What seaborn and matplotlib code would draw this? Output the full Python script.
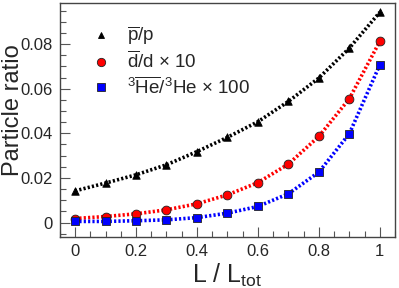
import numpy as np
import pandas as pd
import seaborn as sns
import matplotlib
matplotlib.use("Agg")
import matplotlib.pyplot as plt
from matplotlib.ticker import MultipleLocator
from matplotlib.lines import Line2D

sns.set_style("ticks")
plt.rcParams['font.family'] = ['Liberation Sans', 'DejaVu Sans']
plt.rcParams['mathtext.fontset'] = 'custom'
plt.rcParams['mathtext.rm'] = 'Liberation Sans'
plt.rcParams['mathtext.it'] = 'Liberation Sans'

L = [0.0, 0.1, 0.2, 0.3, 0.4, 0.5, 0.6, 0.7, 0.8, 0.9, 1.0]
pbar_p = [0.0142, 0.0177, 0.0214, 0.0259, 0.0318, 0.0382, 0.0452, 0.0543, 0.0648, 0.0782, 0.0943]
dbar_d = [0.0018, 0.0027, 0.0039, 0.0057, 0.0084, 0.0124, 0.0179, 0.0262, 0.0386, 0.0555, 0.0812]
he_he = [0.0005, 0.0005, 0.0008, 0.0012, 0.0022, 0.0042, 0.0072, 0.0129, 0.0226, 0.0398, 0.0707]

labels = [r"$\overline{\mathrm{p}}$/p",
          r"$\overline{\mathrm{d}}$/d $\times$ 10",
          r"$^{3}\overline{\mathrm{He}}$/$^{3}$He $\times$ 100"]
colors = ["black", "red", "blue"]
markers = ["^", "o", "s"]
msizes = [5, 6, 6]

df = pd.DataFrame({"L": L * 3,
                   "ratio": pbar_p + dbar_d + he_he,
                   "species": [labels[0]] * 11 + [labels[1]] * 11 + [labels[2]] * 11})

fig = plt.figure(figsize=(3.99, 2.88), dpi=100)
ax = fig.add_axes([0.150, 0.177, 0.840, 0.813])

for lab, c, m, ms in zip(labels, colors, markers, msizes):
    sub = df[df["species"] == lab]
    sns.lineplot(data=sub, x="L", y="ratio", ax=ax, color=c, linestyle=(0, (0.6, 0.6)),
                 linewidth=2.6, legend=False)
    sns.scatterplot(data=sub, x="L", y="ratio", ax=ax, color=c, marker=m, s=ms ** 2 + 4,
                    edgecolor="#222222" if c != "black" else "black", linewidth=0.6,
                    legend=False, zorder=5)

ax.set_xlim(-0.05, 1.05)
ax.set_ylim(-0.0065, 0.0985)
ax.xaxis.set_minor_locator(MultipleLocator(0.05))
ax.yaxis.set_minor_locator(MultipleLocator(0.005))
ax.set_xticks([0, 0.2, 0.4, 0.6, 0.8, 1.0])
ax.set_xticklabels(["0", "0.2", "0.4", "0.6", "0.8", "1"])
ax.set_yticks([0, 0.02, 0.04, 0.06, 0.08])
ax.set_yticklabels(["0", "0.02", "0.04", "0.06", "0.08"])
ax.tick_params(which="major", direction="in", length=7, width=0.8, labelsize=12,
               color="#555555", pad=5)
ax.tick_params(which="minor", direction="in", length=4, width=0.8, color="#555555")
for s in ax.spines.values():
    s.set_linewidth(1.0)
    s.set_color("#444444")

ax.set_xlabel(r"L / L$_{\mathrm{tot}}$", fontsize=18, labelpad=2)
ax.set_ylabel("Particle ratio", fontsize=17)
ax.yaxis.set_label_coords(-0.108, 0.54)

handles = [Line2D([], [], linestyle="none", marker=m, color=c, markersize=ms,
                  markeredgecolor="#222222" if c != "black" else "black", markeredgewidth=0.6)
           for c, m, ms in zip(colors, markers, msizes)]
ax.legend(handles, labels, loc="upper left", bbox_to_anchor=(0.045, 0.98), frameon=False,
          fontsize=13.5, handlelength=1.0, handletextpad=0.9, labelspacing=0.2)

fig.savefig("out.png", dpi=100)
